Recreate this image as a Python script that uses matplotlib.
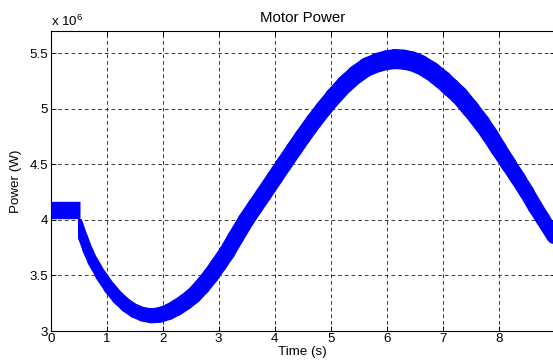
import numpy as np
import matplotlib
matplotlib.use('Agg')
import matplotlib.pyplot as plt
from matplotlib.collections import LineCollection
from matplotlib.patches import Polygon
from matplotlib.ticker import FuncFormatter

plt.rcParams['font.family'] = ['Liberation Sans', 'DejaVu Sans']
plt.rcParams['mathtext.fontset'] = 'custom'
plt.rcParams['mathtext.rm'] = 'Liberation Sans'

# 数据（单位 x1e6 W）
t_flat = [0.0, 0.52]
p_flat = [4.086, 4.086]

t_main = [0.40, 0.50, 0.58, 0.66, 0.75, 0.9, 1.05, 1.2, 1.35, 1.5, 1.65, 1.8,
          1.95, 2.1, 2.25, 2.4, 2.55, 2.7, 2.86, 3.0, 3.15, 3.3, 3.49,
          3.65, 3.8, 4.0, 4.16, 4.35, 4.5, 4.7, 4.87, 5.05, 5.25, 5.45,
          5.65, 5.85, 6.0, 6.15, 6.3, 6.45, 6.6, 6.8, 7.0, 7.15, 7.3,
          7.5, 7.7, 7.85, 8.0, 8.18, 8.35, 8.5, 8.65, 8.8, 9.0]
p_main = [4.10, 3.955, 3.84, 3.73, 3.63, 3.5, 3.39, 3.30, 3.23, 3.18, 3.15, 3.137,
          3.145, 3.17, 3.21, 3.26, 3.32, 3.40, 3.5, 3.6, 3.71, 3.84, 4.0,
          4.12, 4.23, 4.38, 4.5, 4.64, 4.75, 4.89, 5.0, 5.11, 5.22, 5.31,
          5.38, 5.42, 5.44, 5.45, 5.445, 5.43, 5.40, 5.34, 5.26, 5.19, 5.12,
          5.0, 4.87, 4.76, 4.64, 4.5, 4.37, 4.25, 4.12, 4.0, 3.84]
# 振荡带宽度（像素），随时间变化
w_main = [9.5, 9.5, 9.8, 10.2, 10.6, 11.5, 12.3, 13.0, 13.5, 14.0, 14.5, 15.0,
          15.5, 16.0, 16.3, 16.5, 16.5, 16.5, 16.5, 16.5, 16.5, 16.5, 16.5,
          16.5, 16.5, 16.5, 16.5, 16.6, 16.7, 16.8, 17.0, 17.3, 17.8, 18.3,
          18.8, 19.3, 19.7, 20.0, 20.0, 19.8, 19.5, 19.2, 19.0, 18.7, 18.4,
          18.0, 17.4, 17.0, 16.5, 16.0, 15.6, 15.3, 15.0, 15.0, 14.5]
t_start = 0.49   # 暂态开始时刻
p_step = 4.01    # 平段下沿

x_ticks = [0, 1, 2, 3, 4, 5, 6, 7, 8]
y_ticks = [3.0, 3.5, 4.0, 4.5, 5.0, 5.5]

fig = plt.figure(figsize=(5.53, 3.6), dpi=100)
ax = fig.add_axes([50.7 / 553, 29 / 360, 504 / 553, 299.7 / 360])

blue = '#0000ff'
ax.plot(t_flat, np.array(p_flat) * 1e6, color=blue, lw=12.5,
        solid_capstyle='butt', zorder=3)

pts = np.column_stack([t_main, np.array(p_main) * 1e6])
segs = np.stack([pts[:-1], pts[1:]], axis=1)
w = np.array(w_main)
lw = (w[:-1] + w[1:]) / 2 * 72 / fig.dpi
lc = LineCollection(segs, linewidths=lw, colors=blue, capstyle='round',
                    joinstyle='round', zorder=3)
ax.add_collection(lc)
# 左端竖直截断，并挂在平段下方
clip = Polygon([(t_start, 0), (t_start, p_step * 1e6), (1.5, p_step * 1e6),
                (1.5, 1e8), (20, 1e8), (20, 0)], closed=True,
               transform=ax.transData)
lc.set_clip_path(clip)

ax.set_xlim(0, 9)
ax.set_ylim(3e6, 5.7e6)
ax.set_xticks(x_ticks)
ax.set_yticks(np.array(y_ticks) * 1e6)
ax.yaxis.set_major_formatter(FuncFormatter(lambda v, pos: '%g' % (v / 1e6)))

# MATLAB 风格：刻度朝内，四周都有
ax.tick_params(direction='in', top=True, right=True, length=3.6, width=0.7,
               labelsize=9.6, colors='black')
ax.tick_params(axis='x', pad=1.5)
ax.tick_params(axis='y', pad=2)
for s in ax.spines.values():
    s.set_linewidth(0.8)

ax.grid(True, color='0.1', linestyle=(0, (4.5, 3.5)), linewidth=0.6)
ax.set_axisbelow(True)

ax.set_title('Motor Power', fontsize=10.8, pad=7)
ax.set_xlabel('Time (s)', fontsize=9.6, labelpad=1)
ax.set_ylabel('Power (W)', fontsize=9.6, labelpad=5)
ax.text(0, 1.008, 'x 10$^{6}$', transform=ax.transAxes, ha='left',
        va='bottom', fontsize=9.6)

fig.savefig('out.png', dpi=100)
